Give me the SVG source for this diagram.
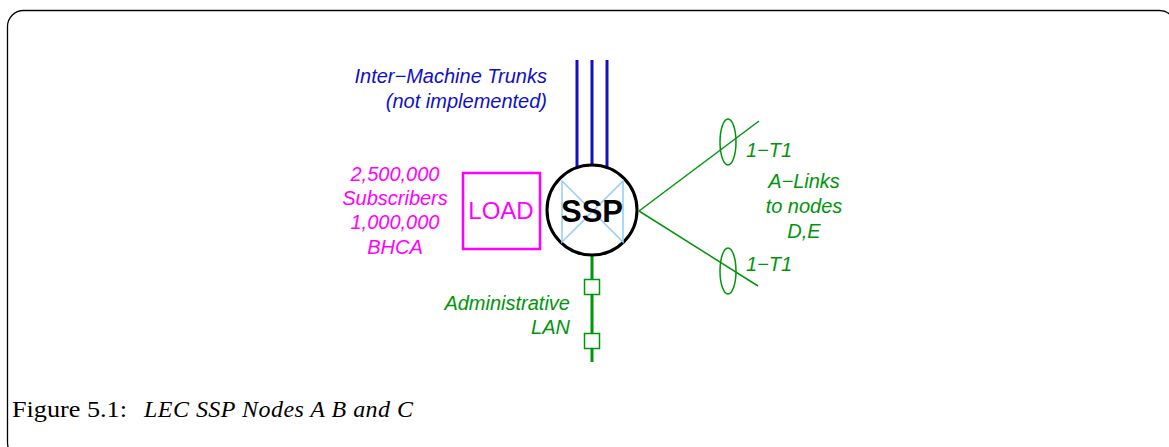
<svg xmlns="http://www.w3.org/2000/svg" width="1169" height="447" viewBox="0 0 1169 447">
<style>
.lbl{font-family:"Liberation Sans",Arial,sans-serif;font-size:20px;font-style:italic}
.blue{fill:#1010c8}
.mag{fill:#ff00ff}
.grn{fill:#00960a}
.gline{stroke:#00960a;fill:none}
.cap{font-family:"Liberation Serif","Times New Roman",serif;font-size:24px;fill:#000}
</style>
<rect x="7.5" y="10.5" width="1168" height="448" rx="16" ry="16" fill="none" stroke="#000" stroke-width="1.3"/>
<g id="connectors">
<g id="trunks" stroke="#1010c8" stroke-width="3">
<line x1="577" y1="60" x2="577" y2="172"/>
<line x1="592" y1="60" x2="592" y2="166"/>
<line x1="607" y1="60" x2="607" y2="172"/>
</g>
<g id="alinks" class="gline" stroke-width="1.5">
<line x1="639" y1="211" x2="759" y2="121"/>
<line x1="639" y1="211" x2="758" y2="286"/>
<ellipse cx="728" cy="142" rx="8" ry="23"/>
<ellipse cx="728" cy="271" rx="8" ry="23"/>
</g>
<g id="lan">
<line class="gline" x1="592" y1="255" x2="592" y2="362" stroke-width="3"/>
<rect x="584.5" y="279.5" width="15" height="15" fill="#fff" stroke="#00960a" stroke-width="1.5"/>
<rect x="584.5" y="333.5" width="15" height="15" fill="#fff" stroke="#00960a" stroke-width="1.5"/>
</g>
</g>
<g id="ssp">
<circle cx="592" cy="210" r="45" fill="#fff" stroke="#000" stroke-width="3"/>
<path d="M562,181 L562,242 L623,181 L623,242 Z" fill="none" stroke="#90cdf8" stroke-width="1.5"/>
<text x="592" y="222" text-anchor="middle" font-family="Liberation Sans,Arial,sans-serif" font-weight="bold" font-size="31" fill="#000">SSP</text>
</g>
<g id="load">
<rect x="463" y="173" width="77" height="76" fill="none" stroke="#ff00ff" stroke-width="2.5"/>
<text x="501" y="219" text-anchor="middle" font-family="Liberation Sans,Arial,sans-serif" font-size="24" fill="#ff00ff">LOAD</text>
</g>
<g id="trunk-label" class="lbl blue" text-anchor="end">
<text x="547" y="83">Inter−Machine Trunks</text>
<text x="547" y="108">(not implemented)</text>
</g>
<g id="load-label" class="lbl mag" text-anchor="middle">
<text x="395" y="181">2,500,000</text>
<text x="395" y="205">Subscribers</text>
<text x="395" y="229">1,000,000</text>
<text x="395" y="254">BHCA</text>
</g>
<g id="alink-label" class="lbl grn">
<text x="746" y="157">1−T1</text>
<text x="746" y="271">1−T1</text>
<text x="804" y="188" text-anchor="middle">A−Links</text>
<text x="804" y="213" text-anchor="middle">to nodes</text>
<text x="804" y="238" text-anchor="middle">D,E</text>
</g>
<g id="lan-label" class="lbl grn" text-anchor="end">
<text x="570" y="310">Administrative</text>
<text x="570" y="334">LAN</text>
</g>
<text class="cap" x="12" y="417" textLength="115" lengthAdjust="spacingAndGlyphs">Figure 5.1:</text>
<text class="cap" x="144" y="417" font-style="italic" textLength="269" lengthAdjust="spacing">LEC SSP Nodes A B and C</text>
</svg>
